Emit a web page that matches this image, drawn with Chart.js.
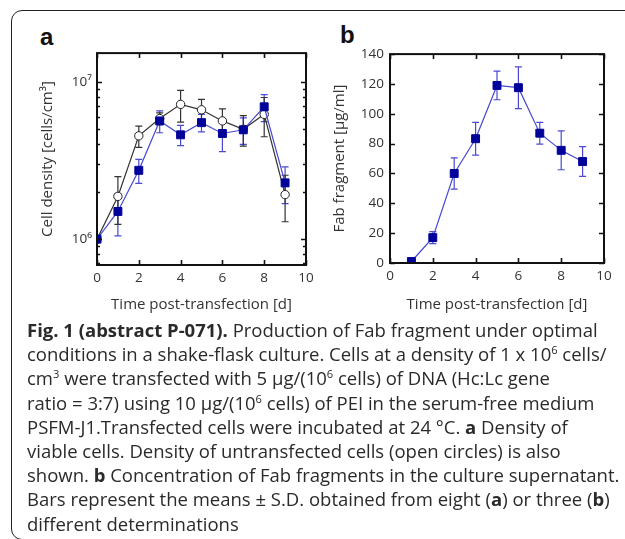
<!DOCTYPE html>
<html>
<head>
<meta charset="utf-8">
<script src="https://cdn.jsdelivr.net/npm/chart.js@4.4.1/dist/chart.umd.min.js"></script>
<style>
  html, body { margin: 0; padding: 0; background: #fff; }
  body { width: 625px; height: 539px; overflow: hidden; position: relative; }
  #frame { position: absolute; left: 11px; top: 10px; width: 640px; height: 530px; box-sizing: border-box;
           border: 1.5px solid #222; border-radius: 11px; }
  .panel { position: absolute; font-family: "Liberation Sans", Arial, sans-serif; font-weight: bold; font-size: 24px; color: #111; line-height: 1; }
  canvas { position: absolute; }
  #caption { position: absolute; left: 27px; top: 318px; font-family: "Open Sans", sans-serif; font-size: 18.5px;
             line-height: 24.2px; color: #2a2a2a; }
  #caption div { white-space: nowrap; }
  #caption sup { font-size: 60%; line-height: 0; vertical-align: 0.6em; }
</style>
</head>
<body>
<div id="frame"></div>
<div class="panel" style="left:40px; top:25px;">a</div>
<div class="panel" style="left:340px; top:23px;">b</div>
<canvas id="chartA" width="300" height="280" style="left:20px; top:40px;"></canvas>
<canvas id="chartB" width="312" height="280" style="left:313px; top:40px;"></canvas>
<div id="caption">
  <div><b>Fig. 1 (abstract P-071).</b> Production of Fab fragment under optimal</div>
  <div>conditions in a shake-flask culture. Cells at a density of 1 x 10<sup>6</sup> cells/</div>
  <div>cm<sup>3</sup> were transfected with 5 μg/(10<sup>6</sup> cells) of DNA (Hc:Lc gene</div>
  <div>ratio = 3:7) using 10 μg/(10<sup>6</sup> cells) of PEI in the serum-free medium</div>
  <div>PSFM-J1.Transfected cells were incubated at 24 °C. <b>a</b> Density of</div>
  <div>viable cells. Density of untransfected cells (open circles) is also</div>
  <div>shown. <b>b</b> Concentration of Fab fragments in the culture supernatant.</div>
  <div>Bars represent the means ± S.D. obtained from eight (<b>a</b>) or three (<b>b</b>)</div>
  <div>different determinations</div>
</div>
<script>
// ---------- data ----------
const daysA = [0, 1, 2, 3, 4, 5, 6, 7, 8, 9];
const transfected = [1.0e6, 1.50e6, 2.74e6, 5.65e6, 4.61e6, 5.51e6, 4.70e6, 4.96e6, 6.95e6, 2.28e6];
const transfectedSD = [0, 0.45e6, 0.48e6, 0.9e6, 0.68e6, 0.7e6, 1.1e6, 0.95e6, 1.35e6, 0.6e6];
const untransfected = [1.0e6, 1.87e6, 4.54e6, 5.85e6, 7.20e6, 6.65e6, 5.65e6, 5.00e6, 6.22e6, 1.92e6];
const untransfectedSD = [0, 0.63e6, 0.7e6, 0.5e6, 1.65e6, 1.1e6, 1.1e6, 1.1e6, 1.74e6, 0.63e6];

const daysB = [1, 2, 3, 4, 5, 6, 7, 8, 9];
const fab = [1, 17, 60, 83.3, 119, 117.5, 87, 75.5, 68];
const fabSD = [0, 4, 10.5, 11, 9.6, 14, 7.3, 13, 10];

const xTicks = [0, 2, 4, 6, 8, 10];
const yTicksA = [1e6, 1e7];
const yTickLabelsA = ['10\u2076', '10\u2077'];
const yMinorA = [7e5, 8e5, 9e5, 2e6, 3e6, 4e6, 5e6, 6e6, 7e6, 8e6, 9e6];
const yTicksB = [0, 20, 40, 60, 80, 100, 120, 140];

// ---------- plugins ----------
const frameTicks = {
  id: 'frameTicks',
  afterDraw(chart, args, opts) {
    const { ctx, chartArea: a, scales } = chart;
    const x = scales.x, y = scales.y;
    ctx.save();
    ctx.strokeStyle = '#111';
    ctx.lineWidth = 1.6;
    ctx.beginPath();
    const vx = (vals, len) => vals.forEach(v => {
      const p = Math.round(x.getPixelForValue(v)) + 0.5;
      ctx.moveTo(p, a.bottom); ctx.lineTo(p, a.bottom - len);
      ctx.moveTo(p, a.top); ctx.lineTo(p, a.top + len);
    });
    const vy = (vals, len) => vals.forEach(v => {
      const p = Math.round(y.getPixelForValue(v)) + 0.5;
      ctx.moveTo(a.left, p); ctx.lineTo(a.left + len, p);
      ctx.moveTo(a.right, p); ctx.lineTo(a.right - len, p);
    });
    vx(opts.xMajor || [], 5);
    vy(opts.yMajor || [], 5);
    vy(opts.yMinor || [], 3);
    ctx.stroke();
    ctx.lineWidth = 2;
    ctx.strokeRect(a.left, a.top, a.right - a.left, a.bottom - a.top);
    ctx.restore();
  }
};

const errorBars = {
  id: 'errorBars',
  beforeDatasetsDraw(chart) {
    const ctx = chart.ctx;
    ctx.save();
    chart.data.datasets.forEach((ds, i) => {
      if (!ds.errors) return;
      const meta = chart.getDatasetMeta(i);
      const xs = chart.scales[meta.xAxisID], ys = chart.scales[meta.yAxisID];
      ctx.strokeStyle = ds.errorColor;
      ctx.lineWidth = 1.2;
      ctx.beginPath();
      ds.data.forEach((pt, j) => {
        const e = ds.errors[j];
        if (!e) return;
        const px = xs.getPixelForValue(pt.x);
        const y1 = ys.getPixelForValue(pt.y + e);
        const y2 = ys.getPixelForValue(pt.y - e);
        ctx.moveTo(px, y1); ctx.lineTo(px, y2);
        ctx.moveTo(px - 3.5, y1); ctx.lineTo(px + 3.5, y1);
        ctx.moveTo(px - 3.5, y2); ctx.lineTo(px + 3.5, y2);
      });
      ctx.stroke();
    });
    ctx.restore();
  }
};

Chart.defaults.font.family = '"Open Sans", sans-serif';
Chart.defaults.color = '#333';

function xScale(h) {
  return {
    type: 'linear', min: 0, max: 10,
    grid: { display: false, drawTicks: false }, border: { display: false },
    afterBuildTicks: s => { s.ticks = xTicks.map(v => ({ value: v })); },
    afterFit: s => { s.height = h; },
    ticks: { font: { size: 13.5 }, padding: 5, color: '#333' },
    title: { display: true, text: 'Time post-transfection [d]', font: { size: 15 }, color: '#333', padding: { top: 0, bottom: 6 } }
  };
}

const pts = (xs, ys) => xs.map((v, i) => ({ x: v, y: ys[i] }));

new Chart(document.getElementById('chartA'), {
  type: 'line',
  data: {
    datasets: [
      {
        label: 'Transfected', data: pts(daysA, transfected), errors: transfectedSD, errorColor: '#4a4ad4',
        borderColor: '#4848d0', borderWidth: 1.2, pointStyle: 'rect', pointRadius: 5.6,
        pointBackgroundColor: '#00009a', pointBorderColor: '#00009a', pointBorderWidth: 1
      },
      {
        label: 'Untransfected', data: pts(daysA, untransfected), errors: untransfectedSD, errorColor: '#333',
        borderColor: '#333', borderWidth: 1.2, pointStyle: 'circle', pointRadius: 4.2,
        pointBackgroundColor: '#fff', pointBorderColor: '#222', pointBorderWidth: 1
      }
    ]
  },
  options: {
    responsive: false, animation: false, events: [],
    layout: { padding: { top: 12, right: 14, left: 0, bottom: 0 } },
    plugins: { legend: { display: false }, tooltip: { enabled: false },
      frameTicks: { xMajor: xTicks, yMajor: yTicksA, yMinor: yMinorA } },
    scales: {
      x: xScale(55),
      y: {
        type: 'logarithmic', min: 6.845e5, max: 1.526e7,
        grid: { display: false, drawTicks: false }, border: { display: false },
        afterBuildTicks: s => { s.ticks = yTicksA.map(v => ({ value: v })); },
        afterFit: s => { s.width = 77; },
        ticks: { font: { size: 13.5 }, padding: 5, color: '#333', callback: (v, i) => yTickLabelsA[i] },
        title: { display: true, text: 'Cell density [cells/cm\u00b3]', font: { size: 15 }, color: '#333', padding: { top: 19, bottom: 0 } }
      }
    }
  },
  plugins: [frameTicks, errorBars]
});

new Chart(document.getElementById('chartB'), {
  type: 'line',
  data: {
    datasets: [
      {
        label: 'Fab fragment', data: pts(daysB, fab), errors: fabSD, errorColor: '#4a4ad4',
        borderColor: '#4848d0', borderWidth: 1.2, pointStyle: 'rect', pointRadius: 5.6,
        pointBackgroundColor: '#00009a', pointBorderColor: '#00009a', pointBorderWidth: 1
      }
    ]
  },
  options: {
    responsive: false, animation: false, events: [],
    layout: { padding: { top: 12, right: 21, left: 0, bottom: 0 } },
    plugins: { legend: { display: false }, tooltip: { enabled: false },
      frameTicks: { xMajor: xTicks, yMajor: yTicksB } },
    scales: {
      x: xScale(57),
      y: {
        type: 'linear', min: 0, max: 140,
        grid: { display: false, drawTicks: false }, border: { display: false },
        afterBuildTicks: s => { s.ticks = yTicksB.map(v => ({ value: v })); },
        afterFit: s => { s.width = 77; },
        ticks: { font: { size: 13.5 }, padding: 6, color: '#333' },
        title: { display: true, text: 'Fab fragment [μg/ml]', font: { size: 15 }, color: '#333', padding: { top: 18, bottom: 0 } }
      }
    }
  },
  plugins: [frameTicks, errorBars]
});
</script>
</body>
</html>
